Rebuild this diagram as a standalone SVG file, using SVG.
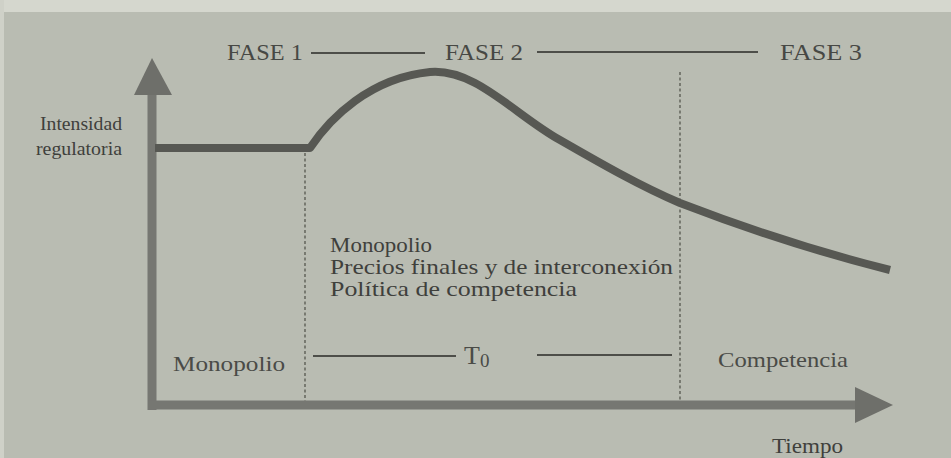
<svg xmlns="http://www.w3.org/2000/svg" width="951" height="458" viewBox="0 0 951 458">
<style>
  text { font-family: "Liberation Serif", "Times New Roman", serif; fill: #3f403c; }
  .fase { font-size: 23px; fill: #474844; }
  .lbl { font-size: 19px; }
  .blk { font-size: 21px; }
  .dash { stroke: #55564f; stroke-width: 1.3; stroke-dasharray: 3 2.5; fill: none; }
  .rule { stroke: #4d4e49; stroke-width: 2; fill: none; }
  .axis { stroke: #767772; stroke-width: 9; fill: none; }
  .head { fill: #6e6f6a; }
  .curve { stroke: #575853; stroke-width: 8; fill: none; stroke-linejoin: round; }
</style>
<rect x="0" y="0" width="951" height="458" fill="#b9bcb2"/>
<rect x="0" y="0" width="951" height="12" fill="#d5d7ce"/>
<rect x="0" y="0" width="4" height="458" fill="#cfd1c8"/>

<g id="connectors">
  <line class="dash" x1="305" y1="153" x2="305" y2="402"/>
  <line class="dash" x1="680" y1="72" x2="680" y2="402"/>
  <line class="axis" x1="152" y1="92" x2="152" y2="410"/>
  <polygon class="head" points="152,58 172,95 134,95"/>
  <line class="axis" x1="148" y1="405" x2="858" y2="405"/>
  <polygon class="head" points="893,405 855,387 855,423"/>
  <path class="curve" d="M155,148 H310 C330,118 370,78 430,72 C475,68 515,115 560,140 C600,163 640,186 680,203 C750,230 830,255 890,270"/>
  <line class="rule" x1="311" y1="53" x2="425" y2="53"/>
  <line class="rule" x1="537" y1="52" x2="758" y2="52"/>
  <line class="rule" x1="313" y1="356" x2="456" y2="356"/>
  <line class="rule" x1="537" y1="355" x2="672" y2="355"/>
</g>

<g id="fase1"><text class="fase" x="227" y="60" textLength="76" lengthAdjust="spacingAndGlyphs">FASE 1</text></g>
<g id="fase2"><text class="fase" x="445" y="60" textLength="78" lengthAdjust="spacingAndGlyphs">FASE 2</text></g>
<g id="fase3"><text class="fase" x="780" y="60" textLength="82" lengthAdjust="spacingAndGlyphs">FASE 3</text></g>

<g id="ylabel">
  <text class="lbl" x="40" y="130" textLength="82" lengthAdjust="spacingAndGlyphs">Intensidad</text>
  <text class="lbl" x="36" y="155" textLength="86" lengthAdjust="spacingAndGlyphs">regulatoria</text>
</g>

<g id="fase2-block">
  <text class="blk" x="330" y="252" textLength="102" lengthAdjust="spacingAndGlyphs">Monopolio</text>
  <text class="blk" x="330" y="274" textLength="343" lengthAdjust="spacingAndGlyphs">Precios finales y de interconexión</text>
  <text class="blk" x="330" y="296" textLength="247" lengthAdjust="spacingAndGlyphs">Política de competencia</text>
</g>

<g id="monopolio"><text class="blk" x="173" y="371" textLength="112" lengthAdjust="spacingAndGlyphs" style="fill:#4a4b47">Monopolio</text></g>
<g id="t0"><text x="464" y="364" style="font-size:26px;fill:#4a4b47">T<tspan dy="3" style="font-size:19px">0</tspan></text></g>
<g id="competencia"><text class="blk" x="718" y="367" textLength="130" lengthAdjust="spacingAndGlyphs" style="fill:#4a4b47">Competencia</text></g>
<g id="tiempo"><text class="blk" x="772" y="453" textLength="71" lengthAdjust="spacingAndGlyphs">Tiempo</text></g>
</svg>
